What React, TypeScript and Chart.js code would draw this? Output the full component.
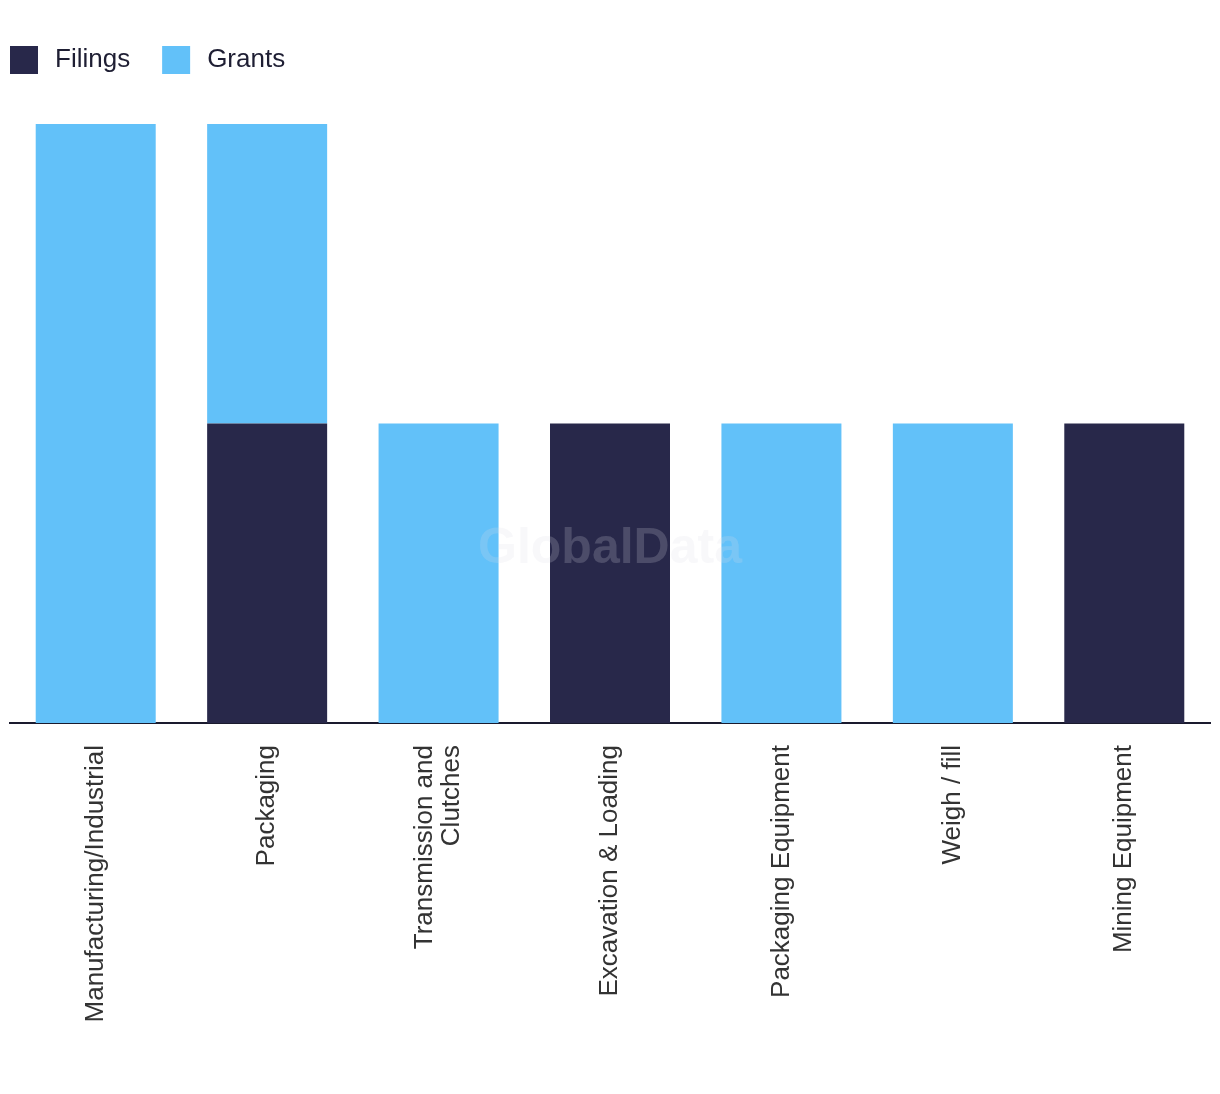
import React, { useEffect, useRef } from "react";
import { Chart, registerables } from "chart.js";

Chart.register(...registerables);

const categories: (string | string[])[] = [
  "Manufacturing/Industrial",
  "Packaging",
  ["Transmission and", "Clutches"],
  "Excavation & Loading",
  "Packaging Equipment",
  "Weigh / fill",
  "Mining Equipment",
];
const filings = [0, 1, 0, 1, 0, 0, 1];
const grants = [2, 1, 1, 0, 1, 1, 0];

const NAVY = "#28284A";
const BLUE = "#62C1F9";
const FONT = "'Liberation Sans', Arial, sans-serif";

const legendPlugin = {
  id: "customLegend",
  afterDraw(chart: any) {
    const ctx = chart.ctx;
    ctx.save();
    let x = 2;
    const y = 52;
    ctx.font = `26px ${FONT}`;
    ctx.textBaseline = "middle";
    ctx.textAlign = "left";
    chart.data.datasets.forEach((ds: any) => {
      ctx.fillStyle = ds.backgroundColor;
      ctx.fillRect(x, y - 14, 28, 28);
      ctx.fillStyle = "#1E1E33";
      ctx.fillText(ds.label, x + 45, y);
      const w = ctx.measureText(ds.label).width;
      x += 45 + w + 32;
    });
    ctx.restore();
  },
};

// centre multi-line rotated tick labels on their tick
const centerMultilinePlugin = {
  id: "centerMultiline",
  beforeDraw(chart: any) {
    const scale = chart.scales.x;
    const items = scale.getLabelItems(chart.chartArea);
    items.forEach((item: any) => {
      if (Array.isArray(item.label) && item.label.length > 1 && !item._centred) {
        const lh = item.font.lineHeight;
        item.options.translation[0] -= ((item.label.length - 1) * lh) / 2;
        item._centred = true;
      }
    });
  },
};

const watermarkPlugin = {
  id: "watermark",
  afterDatasetsDraw(chart: any) {
    const ctx = chart.ctx;
    ctx.save();
    ctx.font = `bold 50px ${FONT}`;
    ctx.fillStyle = "rgba(220,220,232,0.2)";
    ctx.textAlign = "center";
    ctx.textBaseline = "middle";
    ctx.fillText("GlobalData", chart.width / 2, chart.height / 2 + 2);
    ctx.restore();
  },
};

export default function App() {
  const ref = useRef<HTMLCanvasElement>(null);
  useEffect(() => {
    if (!ref.current) return;
    const chart = new Chart(ref.current, {
      type: "bar",
      data: {
        labels: categories,
        datasets: [
          { label: "Filings", data: filings, backgroundColor: NAVY, borderWidth: 0 },
          { label: "Grants", data: grants, backgroundColor: BLUE, borderWidth: 0 },
        ],
      },
      options: {
        animation: false,
        responsive: true,
        maintainAspectRatio: false,
        layout: { padding: { left: 2, right: 2, top: 116, bottom: 0 } },
        datasets: { bar: { barPercentage: 0.7, categoryPercentage: 1 } },
        plugins: {
          legend: { display: false },
          tooltip: { enabled: false },
        },
        scales: {
          x: {
            stacked: true,
            grid: { display: false, drawTicks: false },
            border: { display: true, color: "#1A1A2E", width: 2 },
            ticks: {
              minRotation: 90,
              maxRotation: 90,
              padding: 22,
              color: "#333333",
              font: { family: FONT, size: 26, lineHeight: 1.05 },
              autoSkip: false,
            },
            afterFit: (scale: any) => {
              scale.height = 363;
            },
          },
          y: {
            stacked: true,
            display: false,
            min: 0,
            max: 2,
          },
        },
      },
      plugins: [centerMultilinePlugin, legendPlugin, watermarkPlugin],
    });
    return () => chart.destroy();
  }, []);
  return (
    <div style={{ width: 1204, height: 1078, position: "relative" }}>
      <canvas ref={ref} style={{ display: "block" }} />
    </div>
  );
}
